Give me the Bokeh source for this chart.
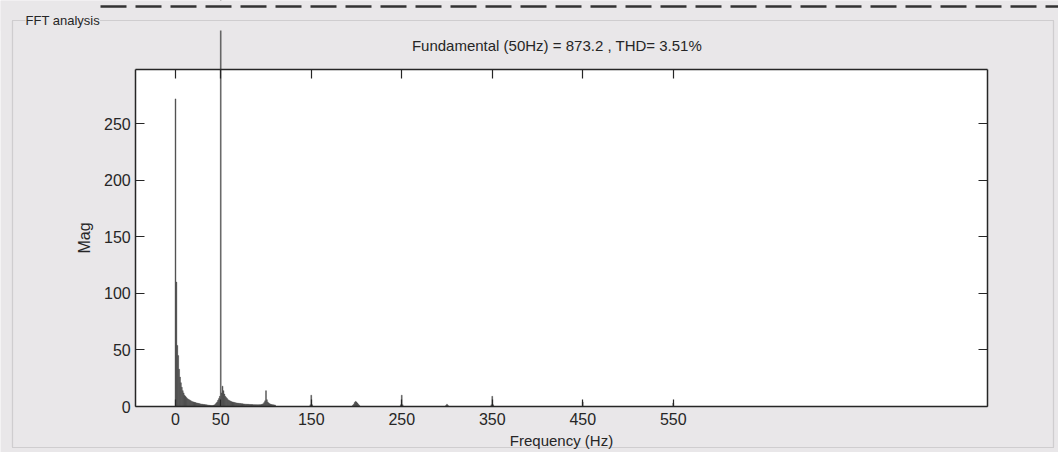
from bokeh.plotting import figure
from bokeh.models import (ColumnDataSource, LinearAxis, FixedTicker, Range1d, Label,
                          BoxAnnotation)
from bokeh.embed import file_html
from bokeh.resources import INLINE

# ---- data ----
FREQ_LOW = list(range(0, 111))
MAG_LOW = [
    272, 110, 54, 45, 33, 26, 21, 17, 14, 12,
    10, 9, 8, 7, 6.5, 6, 5.5, 5, 4.5, 4.2,
    4, 3.7, 3.5, 3.2, 3, 2.8, 2.6, 2.4, 2.2, 2.1,
    2, 1.8, 1.7, 1.6, 1.5, 1.4, 1.2, 1.1, 1.0, 0.9,
    0.8, 0.8, 1.0, 1.4, 2.0, 3.0, 4.0, 5.5, 7, 9,
    873.2, 12, 18, 14, 11, 9, 8, 7, 6, 5.5,
    5, 4.6, 4.3, 4, 3.8, 3.6, 3.4, 3.2, 3, 2.9,
    2.8, 2.7, 2.6, 2.5, 2.4, 2.3, 2.2, 2.1, 2.0, 2.0,
    1.9, 1.9, 1.8, 1.8, 1.7, 1.7, 1.6, 1.6, 1.6, 1.5,
    1.5, 1.5, 1.5, 1.6, 1.6, 1.8, 2.0, 2.5, 3.5, 5,
    14, 6, 4, 3, 2.5, 2, 1.8, 1.6, 1.5, 1.4, 1.3,
]
FREQ_HIGH = [149, 150, 151, 196, 197, 198, 199, 200, 201, 202, 203,
             249, 250, 251, 299, 300, 301, 349, 350, 351, 450, 550]
MAG_HIGH = [1.5, 10, 1.5, 1, 2, 3.5, 4.5, 4, 3, 2, 1,
            1.5, 10, 1.5, 1, 2, 1, 1.5, 9, 1.5, 4, 3]

X_TICKS = [0, 50, 150, 250, 350, 450, 550]
Y_TICKS = [0, 50, 100, 150, 200, 250]
X_MIN, X_MAX = -44, 897      # axes box, Hz
Y_TOP = 298                  # top of the axes box
Y_CLIP = 332.5               # the fundamental line is cut here

TITLE = "Fundamental (50Hz) = 873.2 , THD= 3.51%"
PANEL = "FFT analysis"

BG = "#e9e7e9"
INK = "#262626"
FONT = "Liberation Sans"

W, H = 1058, 452
PX_X = 0.905                 # pixels per Hz
PX_Y = 337 / 298             # pixels per unit of Mag
X0_PX, Y0_PX = 175, 406      # where (0, 0) sits on the page

src = ColumnDataSource(dict(f=FREQ_LOW + FREQ_HIGH, m=MAG_LOW + MAG_HIGH))

p = figure(width=W, height=H, output_backend="svg", toolbar_location=None,
           x_range=Range1d(-X0_PX / PX_X, (W - X0_PX) / PX_X),
           y_range=Range1d(-(H - Y0_PX) / PX_Y, Y0_PX / PX_Y),
           min_border=0, x_axis_location=None, y_axis_location=None)
p.background_fill_color = BG
p.border_fill_color = BG
p.outline_line_color = None
p.grid.visible = False

# white axes box
p.quad(left=[X_MIN], right=[X_MAX], bottom=[0], top=[Y_TOP],
       fill_color="white", line_color=None)

# spectrum bars
p.vbar(x="f", top="m", bottom=0, width=1.0, source=src,
       fill_color="#4a4a4a", line_color="#4a4a4a", line_width=0.4)

# mask above the cut of the fundamental line
p.quad(left=[p.x_range.start], right=[p.x_range.end], bottom=[Y_CLIP],
       top=[p.y_range.end], fill_color=BG, line_color=None)

# scanned dashed rule along the top
p.segment(x0=[(100 - X0_PX) / PX_X], y0=[(Y0_PX - 6) / PX_Y],
          x1=[p.x_range.end], y1=[(Y0_PX - 6) / PX_Y],
          line_color="#333333", line_width=2.5, line_dash="26 9")


def style(ax):
    ax.axis_line_color = INK
    ax.axis_line_width = 1.5
    ax.major_tick_line_color = INK
    ax.major_tick_line_width = 1.2
    ax.major_tick_in = 9
    ax.major_tick_out = 0
    ax.minor_tick_line_color = None
    ax.major_label_text_font = FONT
    ax.major_label_text_font_size = "16px"
    ax.major_label_text_color = INK
    ax.axis_label_text_font = FONT
    ax.axis_label_text_font_style = "normal"
    ax.axis_label_text_color = INK


xb = LinearAxis(ticker=FixedTicker(ticks=X_TICKS), axis_label="Frequency (Hz)",
                fixed_location=0, bounds=(X_MIN, X_MAX))
style(xb)
xb.major_tick_in = 7
xb.major_label_standoff = 6
xb.axis_label_standoff = 4
xb.axis_label_text_font_size = "15px"
p.add_layout(xb, "below")

xt = LinearAxis(ticker=FixedTicker(ticks=X_TICKS), fixed_location=Y_TOP,
                bounds=(X_MIN, X_MAX), major_label_overrides={t: "" for t in X_TICKS})
style(xt)
p.add_layout(xt, "above")

yl = LinearAxis(ticker=FixedTicker(ticks=Y_TICKS), axis_label="Mag",
                fixed_location=X_MIN, bounds=(0, Y_TOP))
style(yl)
yl.major_label_standoff = 5
yl.axis_label_standoff = 8
yl.axis_label_text_font_size = "16px"
p.add_layout(yl, "left")

yr = LinearAxis(ticker=FixedTicker(ticks=Y_TICKS), fixed_location=X_MAX,
                bounds=(0, Y_TOP), major_label_overrides={t: "" for t in Y_TICKS})
style(yr)
p.add_layout(yr, "right")

# title above the box
p.add_layout(Label(x=(X_MIN + X_MAX) / 2 - 5, y=(Y0_PX - 45) / PX_Y, text=TITLE,
                   text_align="center", text_baseline="middle", text_font=FONT,
                   text_font_size="15px", text_color=INK))

# panel frame (dotted) and its caption
PANEL_L, PANEL_R, PANEL_T, PANEL_B = 12, 1053, 20, 447   # page pixels
p.add_layout(BoxAnnotation(left=(PANEL_L - X0_PX) / PX_X, right=(PANEL_R - X0_PX) / PX_X,
                           top=(Y0_PX - PANEL_T) / PX_Y, bottom=(Y0_PX - PANEL_B) / PX_Y,
                           fill_color=None, line_color="#3a3a3a", line_width=1.2,
                           line_dash="1 1"))
p.add_layout(Label(x=(25 - X0_PX) / PX_X, y=(Y0_PX - PANEL_T) / PX_Y, text=PANEL,
                   text_align="left", text_baseline="middle", text_font=FONT,
                   text_font_size="13px", text_color=INK, background_fill_color=BG))

open("out.html", "w").write(file_html(p, INLINE))
